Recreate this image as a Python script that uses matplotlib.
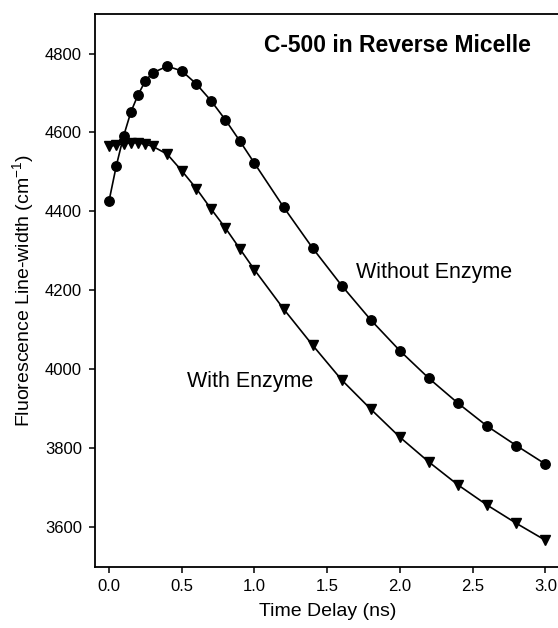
import numpy as np
import matplotlib.pyplot as plt

plt.rcParams['font.family'] = ['Liberation Sans', 'DejaVu Sans']

# Time delay points (ns)
t_delay = [0.0, 0.05, 0.1, 0.15, 0.2, 0.25, 0.3, 0.4, 0.5, 0.6, 0.7, 0.8, 0.9,
           1.0, 1.2, 1.4, 1.6, 1.8, 2.0, 2.2, 2.4, 2.6, 2.8, 3.0]

# Line-width (cm^-1) without enzyme
width_no_enzyme = [4427, 4516, 4591, 4652, 4696, 4731, 4751, 4768, 4756, 4723,
                   4681, 4632, 4578, 4522, 4411, 4307, 4212, 4125, 4047, 3977,
                   3914, 3856, 3807, 3760]

# Line-width (cm^-1) with enzyme
width_enzyme = [4565, 4568, 4572, 4574, 4574, 4570, 4565, 4545, 4503, 4458,
                4407, 4358, 4305, 4252, 4153, 4061, 3973, 3899, 3828, 3765,
                3707, 3656, 3610, 3567]

fig = plt.figure(figsize=(5.58, 6.28), dpi=100)
ax = fig.add_axes([0.1694, 0.0976, 0.834, 0.880])

ax.plot(t_delay, width_no_enzyme, 'k-', marker='o', ms=6.8, lw=1.2)
ax.plot(t_delay, width_enzyme, 'k-', marker='v', ms=7.2, lw=1.2)

ax.set_xlim(-0.1, 3.1)
ax.set_ylim(3500, 4900)
ax.set_xticks([0.0, 0.5, 1.0, 1.5, 2.0, 2.5, 3.0])
ax.set_yticks([3600, 3800, 4000, 4200, 4400, 4600, 4800])
ax.xaxis.set_major_formatter(plt.FormatStrFormatter('%.1f'))
ax.tick_params(direction='out', length=4, width=1.1, labelsize=12, pad=5)
for s in ax.spines.values():
    s.set_linewidth(1.3)

ax.set_xlabel('Time Delay (ns)', fontsize=14, labelpad=6)
ax.set_ylabel('Fluorescence Line-width (cm$^{\\mathregular{-1}}$)',
              fontsize=14, labelpad=6)

ax.text(1.985, 4821, 'C-500 in Reverse Micelle', fontsize=16.5,
        fontweight='bold', ha='center', va='center')
ax.text(1.70, 4245, 'Without Enzyme', fontsize=15.5, ha='left', va='center')
ax.text(0.535, 3968, 'With Enzyme', fontsize=15.5, ha='left', va='center')

plt.savefig('out.png', dpi=100)
